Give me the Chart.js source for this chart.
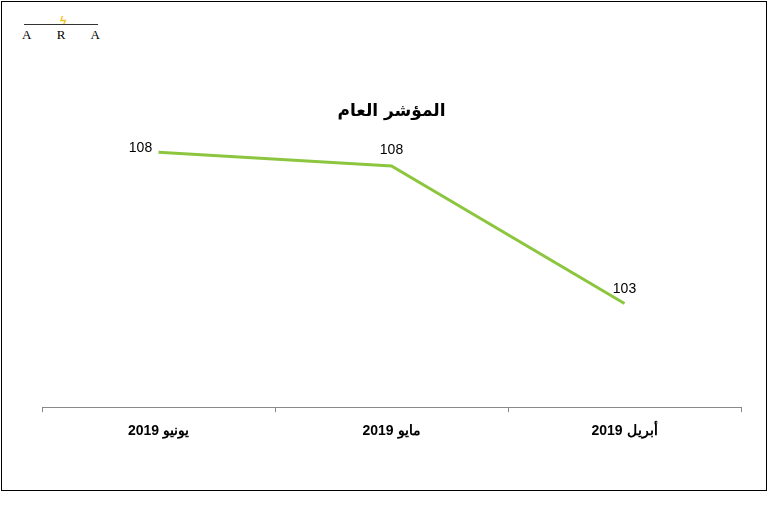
<!DOCTYPE html>
<html><head><meta charset="utf-8">
<script src="https://cdn.jsdelivr.net/npm/chart.js@4"></script>
<style>
body{margin:0;background:#fff;}
#frame{position:absolute;left:1px;top:1px;width:764px;height:488px;border:1px solid #000;}
#logo{position:absolute;left:22px;top:14px;width:78px;font:13px "Liberation Serif";letter-spacing:0;}
#logo .ln{position:absolute;left:2px;top:10px;width:74px;height:1px;background:#333;}
#logo .bolt{position:absolute;left:38px;top:0;color:#f0c419;font:bold 12px sans-serif;}
#logo .t{position:absolute;top:13px;left:0;width:78px;display:flex;justify-content:space-between;}
#wrap{position:absolute;left:0;top:0;width:770px;height:526px;}
</style></head><body>
<div id="frame"></div>
<div id="logo"><div class="bolt">ϟ</div><div class="ln"></div><div class="t"><span>A</span><span>R</span><span>A</span></div></div>
<div id="wrap"><canvas id="c" width="770" height="526"></canvas></div>
<script>
const categories = ['يونيو 2019', 'مايو 2019', 'أبريل 2019'];
const values = [108.2, 107.7, 102.7];
const labels = ['108', '108', '103'];

const labelPlugin = {
  id: 'lbl',
  afterDatasetsDraw(chart) {
    const ctx = chart.ctx;
    const meta = chart.getDatasetMeta(0);
    ctx.save();
    ctx.font = '14px "Liberation Sans", Arial';
    ctx.fillStyle = '#000';
    ctx.textBaseline = 'middle';
    const offs = [[-18, -4], [0, -16], [0, -14]];
    meta.data.forEach((p, i) => {
      ctx.textAlign = 'center';
      ctx.fillText(labels[i], p.x + offs[i][0], p.y + offs[i][1]);
    });
    ctx.restore();
  }
};

new Chart(document.getElementById('c'), {
  type: 'line',
  data: { labels: categories, datasets: [{ data: values, borderColor: '#8cc63f', borderWidth: 3, pointRadius: 0, tension: 0 }] },
  options: {
    responsive: false, animation: false,
    layout: { padding: { left: 42, right: 29, top: 101, bottom: 75 } },
    plugins: {
      legend: { display: false }, tooltip: { enabled: false },
      title: { display: true, text: 'المؤشر العام', color: '#000', font: { family: '"DejaVu Sans", Arial', size: 17, weight: 'bold' }, padding: { top: 0, bottom: 6 } }
    },
    scales: {
      x: {
        offset: true,
        grid: { display: true, drawOnChartArea: false, offset: true, color: '#888', tickLength: 5 },
        border: { color: '#888' },
        ticks: { color: '#000', font: { family: '"Liberation Sans", Arial', size: 14, weight: 'bold' }, padding: 11 }
      },
      y: { display: false, min: 98.93, max: 109.1 }
    }
  },
  plugins: [labelPlugin]
});
</script>
</body></html>
